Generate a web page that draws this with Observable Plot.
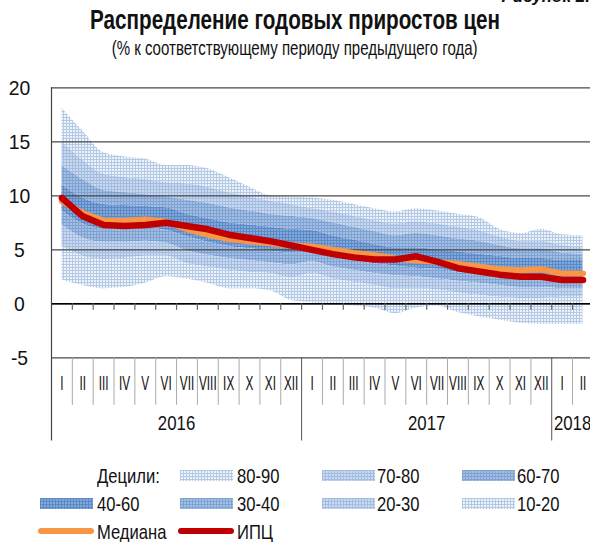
<!DOCTYPE html>
<html><head><meta charset="utf-8">
<script src="https://cdn.jsdelivr.net/npm/d3@7"></script>
<script src="https://cdn.jsdelivr.net/npm/@observablehq/plot@0.6"></script>
<style>
body{margin:0;background:#fff;font-family:"Liberation Sans",Arial,sans-serif;color:#111;overflow:hidden}
#wrap{position:relative;width:590px;height:542px;overflow:hidden}
#head{position:relative;height:60px}
.row{position:absolute;left:0;right:0;text-align:center;white-space:nowrap}
.title{top:7px;font-weight:bold;font-size:27px;line-height:27px}
.sub{top:37px;font-size:21px;line-height:21px}
.row span{display:inline-block;transform-origin:50% 50%}
.fig{position:absolute;right:0;top:-13px;font-size:17px;font-weight:bold;font-style:italic;white-space:nowrap}
#chart svg{display:block}
#legend{position:relative;height:97px}
.lt{position:absolute;font-size:21px;line-height:21px;white-space:nowrap;transform-origin:0 50%}
.sw{position:absolute;display:block}
</style></head>
<body>
<div id="wrap">
  <div id="head">
    <div class="fig">Рисунок 2.</div>
    <div class="row title"><span id="t1">Распределение годовых приростов цен</span></div>
    <div class="row sub"><span id="t2">(% к соответствующему периоду предыдущего года)</span></div>
  </div>
  <div id="chart"></div>
  <div id="legend"></div>
</div>
<script>
const months = ["I","II","III","IV","V","VI","VII","VIII","IX","X","XI","XII",
                "I","II","III","IV","V","VI","VII","VIII","IX","X","XI","XII",
                "I","II"];
const yearLabels = ["2016","2017","2018"];
const yearLengths = [12,12,2];
const yTicks = [-5,0,5,10,15,20];

const p90 = [18.1,16.0,14.0,13.6,13.4,12.8,12.8,12.5,11.7,10.8,10.0,9.9, 9.8,9.6,9.2,8.8,8.5,8.8,8.6,8.3,8.0,6.9,6.5,6.9, 6.4,6.3];
const p80 = [15.0,13.3,12.0,11.7,11.5,11.2,11.1,10.8,10.3,9.9,9.5,9.2, 8.8,8.5,8.1,7.7,7.4,7.6,7.4,7.1,6.8,6.2,5.8,5.8, 5.4,5.2];
const p70 = [12.8,11.5,10.5,10.3,10.1,9.9,9.6,9.3,8.9,8.6,8.3,8.1, 7.9,7.5,7.1,6.7,6.3,6.5,6.3,6.0,5.8,5.4,5.1,5.1, 4.7,4.6];
const p60 = [11.0,9.8,9.2,9.1,9.0,8.9,8.3,7.9,7.5,7.3,7.1,6.9, 6.8,6.3,5.9,5.5,5.2,5.2,5.0,4.8,4.6,4.4,4.2,4.2, 4.0,4.0];
const p40 = [8.6,7.4,6.9,6.9,7.0,6.8,6.2,5.7,5.3,5.1,4.9,4.7, 4.7,4.3,4.0,3.7,3.5,3.3,3.2,2.9,2.7,2.5,2.3,2.3, 2.0,2.0];
const p30 = [7.3,6.1,5.7,5.7,5.8,5.6,4.9,4.5,4.2,4.0,3.8,3.6, 3.9,3.4,3.1,2.8,2.6,2.5,2.3,2.1,1.9,1.7,1.5,1.5, 1.4,1.4];
const p20 = [5.3,4.4,4.1,4.2,4.4,4.4,3.7,3.4,3.1,2.9,2.8,2.4, 2.8,2.3,2.0,1.7,1.4,1.4,1.3,1.0,0.8,0.6,0.5,0.5, 0.6,0.6];
const p10 = [2.2,1.7,1.4,1.5,1.9,2.5,2.3,1.9,1.4,1.4,1.2,0.3, 0.1,-0.1,-0.2,-0.4,-0.9,-0.4,-0.2,-0.8,-1.2,-1.5,-1.8,-1.9, -1.9,-1.9];
const median = [9.5,8.4,7.7,7.7,7.8,7.6,6.9,6.4,6.0,5.8,5.6,5.4, 5.3,5.0,4.7,4.5,4.2,4.0,3.9,3.7,3.45,3.2,3.1,3.2, 2.8,2.8];
const cpi = [9.8,8.1,7.3,7.2,7.3,7.5,7.2,6.9,6.4,6.1,5.8,5.4, 5.0,4.6,4.3,4.1,4.1,4.4,3.9,3.3,3.0,2.7,2.5,2.5, 2.2,2.2];

const bandDefs = [
  {lo:p80, hi:p90, id:"p8090", label:"80-90", base:"#eef3fa", line:"#b3c9e6"},
  {lo:p70, hi:p80, id:"p7080", label:"70-80", base:"#cad9ee", line:"#a3bde2"},
  {lo:p60, hi:p70, id:"p6070", label:"60-70", base:"#a5bfe2", line:"#7ea2d4"},
  {lo:p40, hi:p60, id:"p4060", label:"40-60", base:"#84a9d9", line:"#5b89c8"},
  {lo:p30, hi:p40, id:"p3040", label:"30-40", base:"#a5bfe2", line:"#7ea2d4"},
  {lo:p20, hi:p30, id:"p2030", label:"20-30", base:"#cad9ee", line:"#a3bde2"},
  {lo:p10, hi:p20, id:"p1020", label:"10-20", base:"#eef3fa", line:"#b3c9e6"}
];

const rows = months.map((m,i) => ({x:i+0.5, median:median[i], cpi:cpi[i]}));
const monthRows = months.map((m,i) => ({x:i+0.5, text:m}));
const bounds = d3.range(1, months.length);
const yearBounds = d3.cumsum(yearLengths).slice(0,-1);
const yearStarts = [0, ...yearBounds];
const yearRows = yearLabels.map((t,k) => ({x:yearStarts[k] + yearLengths[k]/2, text:t}));
const monthBounds = bounds.filter(b => !yearBounds.includes(b));

const yBottom = -12.7, monthSepBottom = -9.4, monthLabelY = -7.4, yearLabelY = -11.1;
const font = '"Liberation Sans",Arial,sans-serif';

const bandMarks = bandDefs.map(b => Plot.areaY(months.map((m,i)=>({x:i+0.5, lo:b.lo[i], hi:b.hi[i]})),
  {x:"x", y1:"lo", y2:"hi", fill:`url(#${b.id})`, curve:"monotone-x"}));

const chart = Plot.plot({
  width:590, height:385, marginTop:27.3, marginBottom:4.5, marginLeft:51, marginRight:0,
  x:{domain:[0,25.86], axis:null},
  y:{domain:[yBottom,20], axis:null},
  style:{fontFamily:font, background:"white", color:"#111", overflow:"visible"},
  marks:[
    ...bandMarks,
    Plot.ruleY(yTicks, {stroke:"#4a4a4a", strokeWidth:1.2}),
    Plot.ruleY([0], {stroke:"#000", strokeWidth:1.6}),
    Plot.ruleX(bounds, {y1:0, y2:-0.6, stroke:"#666", strokeWidth:1.2}),
    Plot.ruleX([0], {y1:yBottom, y2:20, stroke:"#444", strokeWidth:1.2}),
    Plot.ruleX(monthBounds, {y1:-5, y2:monthSepBottom, stroke:"#aaa", strokeWidth:1}),
    Plot.ruleX(yearBounds, {y1:-5, y2:yBottom, stroke:"#555", strokeWidth:1}),
    Plot.text(monthRows, {x:"x", y:()=>monthLabelY, text:"text", fontSize:21, fill:"#111"}),
    Plot.text(yearRows, {x:"x", y:()=>yearLabelY, text:"text", fontSize:21, fill:"#111"}),
    Plot.text(yTicks, {x:()=>0, y:d=>d, text:d=>String(d), dx:-32, fontSize:21, textAnchor:"middle", fill:"#111"}),
    Plot.line(rows, {x:"x", y:"median", stroke:"#f79646", strokeWidth:6, strokeLinecap:"round", strokeLinejoin:"round"}),
    Plot.line(rows, {x:"x", y:"cpi", stroke:"#c00000", strokeWidth:6.5, strokeLinecap:"round", strokeLinejoin:"round"})
  ]
});

const defs = d3.select(chart).insert("defs", ":first-child");
bandDefs.forEach(b => {
  if (!defs.select("#" + b.id).empty()) return;
  const p = defs.append("pattern").attr("id", b.id).attr("patternUnits","userSpaceOnUse").attr("width",3).attr("height",3);
  p.append("rect").attr("width",3).attr("height",3).attr("fill",b.base);
  p.append("path").attr("d","M0,0.5H3M0.5,0V3").attr("stroke",b.line).attr("stroke-width",1);
});
document.getElementById("chart").appendChild(chart);

// condense SVG labels (the original uses a condensed typeface)
const textGroups = d3.select(chart).selectAll('g[aria-label="text"]').nodes();
function condense(g, k){
  d3.select(g).selectAll("text").each(function(){
    const L = this.getComputedTextLength();
    this.setAttribute("textLength", L * k);
    this.setAttribute("lengthAdjust", "spacingAndGlyphs");
  });
}
condense(textGroups[0], 0.56);
condense(textGroups[1], 0.8);
condense(textGroups[2], 0.92);

// condense title lines to their widths in the original
function fitWidth(id, target){
  const el = document.getElementById(id);
  const w = el.getBoundingClientRect().width;
  el.style.transform = `scaleX(${target / w})`;
}
fitWidth("t1", 410);
fitWidth("t2", 366);

// legend
const legend = document.getElementById("legend");
const rowsY = [30, 58, 86];
const colSw = [40, 180, 322, 462];
const colTx = [97, 237, 377, 517];
function addText(t, x, cy){
  const d=document.createElement("div"); d.className="lt"; d.textContent=t;
  d.style.left=x+"px"; d.style.top=(cy-10.5)+"px"; d.style.transform="scaleX(0.79)";
  legend.appendChild(d);
}
function addSwatch(id, x, cy){
  const s = d3.create("svg").attr("class","sw").attr("width",53).attr("height",11).style("left",x+"px").style("top",(cy-5.5)+"px");
  s.append("rect").attr("width",53).attr("height",11).attr("fill",`url(#${id})`);
  legend.appendChild(s.node());
}
function addLine(color, x, cy){
  const s = d3.create("svg").attr("class","sw").attr("width",58).attr("height",10).style("left",(x-3)+"px").style("top",(cy-5)+"px");
  s.append("line").attr("x1",4).attr("x2",54).attr("y1",5).attr("y2",5).attr("stroke",color).attr("stroke-width",6).attr("stroke-linecap","round");
  legend.appendChild(s.node());
}
addText("Децили:", colTx[0], rowsY[0]);
const legendOrder = ["p8090","p7080","p6070","p4060","p3040","p2030","p1020"];
legendOrder.forEach((id,k) => {
  const slot = k + 1; const r = Math.floor(slot/4), c = slot%4;
  const b = bandDefs.find(d=>d.id===id);
  addSwatch(id, colSw[c], rowsY[r]);
  addText(b.label, colTx[c], rowsY[r]);
});
addLine("#f79646", colSw[0], rowsY[2]); addText("Медиана", colTx[0], rowsY[2]);
addLine("#c00000", colSw[1], rowsY[2]); addText("ИПЦ", colTx[1], rowsY[2]);
</script>
</body></html>
